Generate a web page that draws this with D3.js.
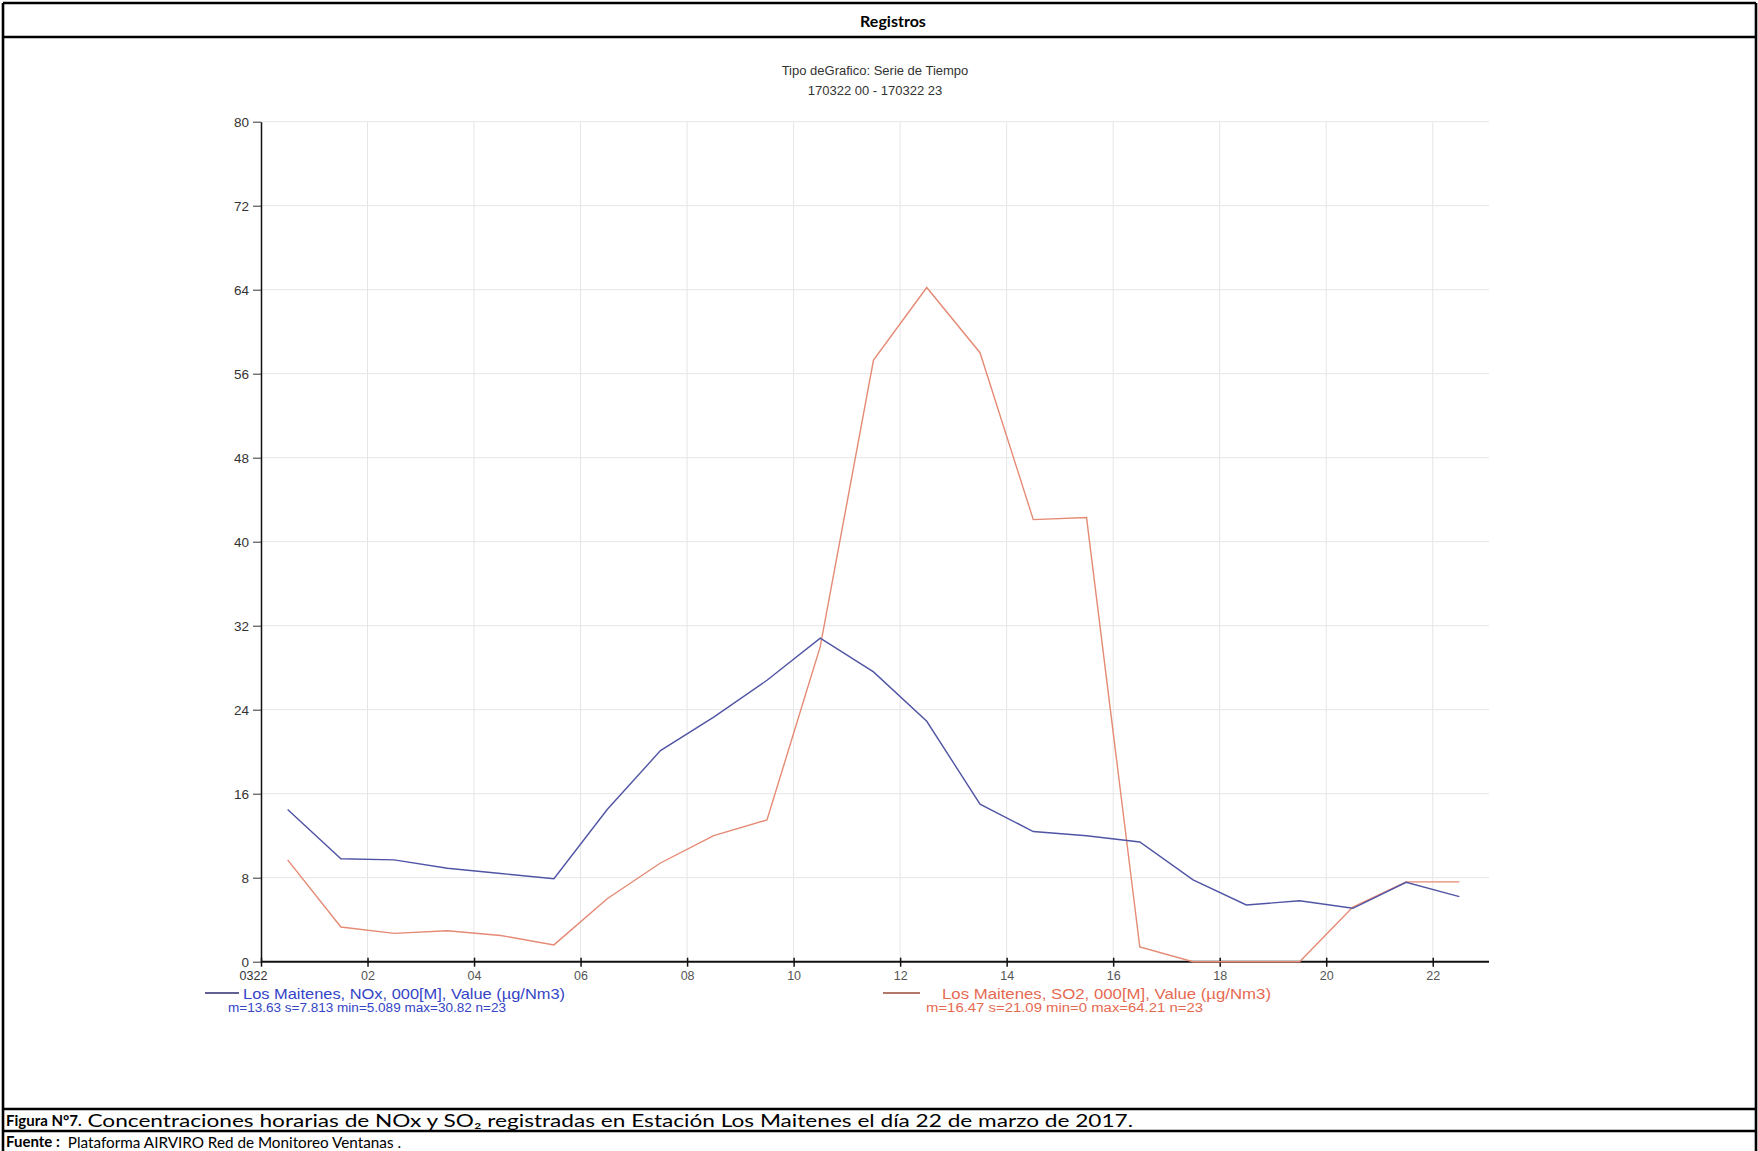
<!DOCTYPE html>
<html><head><meta charset="utf-8">
<script src="https://cdn.jsdelivr.net/npm/d3@7/dist/d3.min.js"></script>
<style>html,body{margin:0;padding:0;background:#fff;} svg{display:block}</style>
</head><body><svg id="c" width="1758" height="1151"></svg>
<script>
// ---------- data ----------
const hours = [0.5,1.5,2.5,3.5,4.5,5.5,6.5,7.5,8.5,9.5,10.5,11.5,12.5,13.5,14.5,15.5,16.5,17.5,18.5,19.5,20.5,21.5,22.5];
const noxValues = [14.5,9.8,9.7,8.9,8.4,7.9,14.5,20.1,23.3,26.8,30.82,27.6,22.9,15.0,12.4,12.0,11.4,7.8,5.4,5.8,5.089,7.56,6.2];
const so2Values = [9.7,3.3,2.7,2.95,2.5,1.6,6.0,9.4,12.0,13.5,30.0,57.3,64.21,58.0,42.1,42.3,1.4,0,0,0,5.2,7.6,7.6];
const yTickValues = [0,8,16,24,32,40,48,56,64,72,80];
const xTickValues = [0,2,4,6,8,10,12,14,16,18,20,22];
const xTickLabels = ["0322","02","04","06","08","10","12","14","16","18","20","22"];
const seriesNames = ["Los Maitenes, NOx, 000[M], Value (µg/Nm3)","Los Maitenes, SO2, 000[M], Value (µg/Nm3)"];
const seriesStats = ["m=13.63 s=7.813 min=5.089 max=30.82 n=23","m=16.47 s=21.09 min=0 max=64.21 n=23"];
const chartTitle = ["Tipo deGrafico: Serie de Tiempo","170322 00 - 170322 23"];
const headerText = "Registros";
const captionBold = "Figura N°7.";
const captionText = "Concentraciones horarias de NOx y SO₂ registradas en Estación Los Maitenes el día 22 de marzo de 2017.";
const sourceBold = "Fuente :";
const sourceText = "Plataforma AIRVIRO Red de Monitoreo Ventanas .";

// ---------- layout ----------
const svg = d3.select("#c");
const W = 1758, H = 1151;
const L = {left:3, right:1756, top:3, headBottom:37, capTop:1109, capMid:1131};
const plot = {x0:261, x1:1486, y0:961.7, y1:121.7, gridRight:1489};
const colNOx = "#5054a4", colSO2 = "#e58a74";
const txtNOx = "#3444c6", txtSO2 = "#e66a52";
const chartFont = "'Liberation Sans', Arial, sans-serif";
const capFont = "Lato, 'Open Sans', sans-serif";

function fit(sel, w){ sel.attr("textLength", w).attr("lengthAdjust","spacingAndGlyphs"); return sel; }
function textEnd(sel){ return +sel.attr("x") + sel.node().getComputedTextLength(); }

// ---------- table frame ----------
const frame = svg.append("g").attr("stroke","#000").attr("stroke-width",2.6).attr("fill","none");
frame.append("line").attr("x1",L.left).attr("x2",L.right).attr("y1",L.top).attr("y2",L.top);
frame.append("line").attr("x1",L.left).attr("x2",L.right).attr("y1",L.headBottom).attr("y2",L.headBottom);
frame.append("line").attr("x1",L.left).attr("x2",L.right).attr("y1",L.capTop).attr("y2",L.capTop);
frame.append("line").attr("x1",L.left).attr("x2",L.right).attr("y1",L.capMid).attr("y2",L.capMid);
frame.append("line").attr("x1",L.left).attr("x2",L.left).attr("y1",L.top).attr("y2",H);
frame.append("line").attr("x1",L.right).attr("x2",L.right).attr("y1",L.top).attr("y2",H);

svg.append("text").attr("x",893).attr("y",20).attr("text-anchor","middle").attr("dominant-baseline","central")
  .attr("font-family",capFont).attr("font-weight","bold").attr("font-size",16).attr("fill","#000").text(headerText);

const cb = svg.append("text").attr("x",6).attr("y",1120).attr("dominant-baseline","central")
  .attr("font-family",capFont).attr("font-weight","bold").attr("font-size",15).attr("fill","#000").text(captionBold);
const cx = textEnd(cb) + 6;
fit(svg.append("text").attr("x",cx).attr("y",1120).attr("dominant-baseline","central")
  .attr("font-family",capFont).attr("font-size",17).attr("fill","#000").text(captionText), 1133 - cx);
const sb = svg.append("text").attr("x",6).attr("y",1141).attr("dominant-baseline","central")
  .attr("font-family",capFont).attr("font-weight","bold").attr("font-size",15).attr("fill","#000").text(sourceBold);
const sx = textEnd(sb) + 8;
fit(svg.append("text").attr("x",sx).attr("y",1141).attr("dominant-baseline","central")
  .attr("font-family",capFont).attr("font-size",16).attr("fill","#000").text(sourceText), 401 - sx);

// ---------- chart ----------
const x = d3.scaleLinear().domain([0,23]).range([plot.x0, plot.x1]);
const y = d3.scaleLinear().domain([0,80]).range([plot.y0, plot.y1]);

// title
svg.append("g").selectAll("text").data(chartTitle).join("text")
  .attr("x",875).attr("y",(d,i)=>70+i*20).attr("text-anchor","middle").attr("dominant-baseline","central")
  .attr("font-family",chartFont).attr("font-size",13).attr("fill","#333").text(d=>d);

// grid
const grid = svg.append("g").attr("stroke","#e6e6e6").attr("stroke-width",1);
grid.selectAll("line.h").data(yTickValues.filter(v=>v>0)).join("line")
  .attr("x1",plot.x0).attr("x2",plot.gridRight).attr("y1",d=>y(d)).attr("y2",d=>y(d));
grid.selectAll("line.v").data(xTickValues.filter(v=>v>0)).join("line")
  .attr("x1",d=>x(d)).attr("x2",d=>x(d)).attr("y1",y(80)).attr("y2",y(0));

// y axis
const yAxis = d3.axisLeft(y).tickValues(yTickValues).tickSize(8).tickSizeOuter(0).tickPadding(4);
const gy = svg.append("g").attr("transform",`translate(${plot.x0},0)`).call(yAxis);
gy.select(".domain").attr("stroke","#111").attr("stroke-width",1.5);
gy.selectAll(".tick line").attr("stroke","#333").attr("stroke-width",1);
gy.selectAll(".tick text").attr("font-family",chartFont).attr("font-size",13.5).attr("fill","#333");

// x axis
const xAxis = d3.axisBottom(x).tickValues(xTickValues).tickFormat((d,i)=>xTickLabels[i]).tickSize(5).tickSizeOuter(0).tickPadding(4);
const gx = svg.append("g").attr("transform",`translate(0,${plot.y0})`).call(xAxis);
gx.select(".domain").attr("d",`M${plot.x0},0H${plot.gridRight}`).attr("stroke","#111").attr("stroke-width",2);
gx.selectAll(".tick line").attr("y1",-4).attr("stroke","#111").attr("stroke-width",1.5);
gx.selectAll(".tick text").attr("font-family",chartFont).attr("font-size",12.5)
  .attr("dx",(d,i)=>i===0?-8:0).attr("fill",(d,i)=>i===0?"#333":"#555");

// lines
const line = d3.line().x((d,i)=>x(hours[i])).y(d=>y(d));
svg.append("path").datum(so2Values).attr("d",line).attr("fill","none").attr("stroke",colSO2).attr("stroke-width",1.4);
svg.append("path").datum(noxValues).attr("d",line).attr("fill","none").attr("stroke",colNOx).attr("stroke-width",1.4);

// legend
const legend = [
  {sx:205, ex:239, tx:243, sx2:228, name:seriesNames[0], stats:seriesStats[0], lc:"#2c2c70", tc:txtNOx, w1:322, w2:278},
  {sx:883, ex:920, tx:942, sx2:926, name:seriesNames[1], stats:seriesStats[1], lc:"#9a4a3a", tc:txtSO2, w1:329, w2:277}
];
legend.forEach(l=>{
  svg.append("line").attr("x1",l.sx).attr("x2",l.ex).attr("y1",993).attr("y2",993).attr("stroke",l.lc).attr("stroke-width",1.3);
  fit(svg.append("text").attr("x",l.tx).attr("y",993).attr("dominant-baseline","central")
    .attr("font-family",chartFont).attr("font-size",15).attr("fill",l.tc).text(l.name), l.w1);
  fit(svg.append("text").attr("x",l.sx2).attr("y",1008).attr("dominant-baseline","central")
    .attr("font-family",chartFont).attr("font-size",12.5).attr("fill",l.tc).text(l.stats), l.w2);
});
</script></body></html>
